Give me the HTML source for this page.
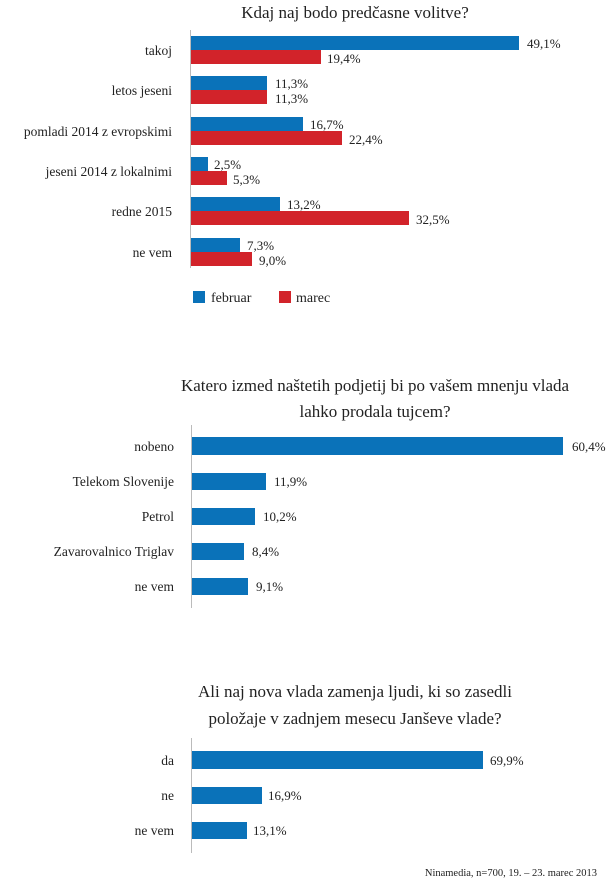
<!DOCTYPE html>
<html><head><meta charset="utf-8"><style>
html,body{margin:0;padding:0;background:#fff;}
svg{display:block;}
text{font-family:"Liberation Serif","DejaVu Serif",serif;fill:#222;}
.t{font-size:17px;text-anchor:middle;}
.l{font-size:13.5px;text-anchor:end;}
.v{font-size:13px;}
</style></head><body>
<svg width="610" height="888" viewBox="0 0 610 888">
<!-- Chart 1 -->
<text class="t" x="355" y="18">Kdaj naj bodo predčasne volitve?</text>
<line x1="190.5" y1="30" x2="190.5" y2="268" stroke="#bbb" stroke-width="1"/>
<g>
<rect x="191" y="36" width="328" height="14" fill="#0a72b9"/><rect x="191" y="50" width="130" height="14" fill="#d2232a"/>
<text class="l" x="172" y="55">takoj</text><text class="v" x="527" y="48">49,1%</text><text class="v" x="327" y="63">19,4%</text>
<rect x="191" y="76" width="76" height="14" fill="#0a72b9"/><rect x="191" y="90" width="76" height="14" fill="#d2232a"/>
<text class="l" x="172" y="95">letos jeseni</text><text class="v" x="275" y="88">11,3%</text><text class="v" x="275" y="103">11,3%</text>
<rect x="191" y="117" width="112" height="14" fill="#0a72b9"/><rect x="191" y="131" width="151" height="14" fill="#d2232a"/>
<text class="l" x="172" y="136">pomladi 2014 z evropskimi</text><text class="v" x="310" y="129">16,7%</text><text class="v" x="349" y="144">22,4%</text>
<rect x="191" y="157" width="17" height="14" fill="#0a72b9"/><rect x="191" y="171" width="36" height="14" fill="#d2232a"/>
<text class="l" x="172" y="176">jeseni 2014 z lokalnimi</text><text class="v" x="214" y="169">2,5%</text><text class="v" x="233" y="184">5,3%</text>
<rect x="191" y="197" width="89" height="14" fill="#0a72b9"/><rect x="191" y="211" width="218" height="14" fill="#d2232a"/>
<text class="l" x="172" y="216">redne 2015</text><text class="v" x="287" y="209">13,2%</text><text class="v" x="416" y="224">32,5%</text>
<rect x="191" y="238" width="49" height="14" fill="#0a72b9"/><rect x="191" y="252" width="61" height="14" fill="#d2232a"/>
<text class="l" x="172" y="257">ne vem</text><text class="v" x="247" y="250">7,3%</text><text class="v" x="259" y="265">9,0%</text>
</g>
<rect x="193" y="291" width="12" height="12" fill="#0a72b9"/><text class="v" x="211" y="302" style="font-size:14px">februar</text>
<rect x="279" y="291" width="12" height="12" fill="#d2232a"/><text class="v" x="296" y="302" style="font-size:14px">marec</text>

<!-- Chart 2 -->
<text class="t" x="375" y="391">Katero izmed naštetih podjetij bi po vašem mnenju vlada</text>
<text class="t" x="375" y="417">lahko prodala tujcem?</text>
<line x1="191.5" y1="425" x2="191.5" y2="608" stroke="#bbb" stroke-width="1"/>
<rect x="192" y="437" width="371" height="18" fill="#0a72b9"/><text class="l" x="174" y="451">nobeno</text><text class="v" x="572" y="451">60,4%</text>
<rect x="192" y="473" width="74" height="17" fill="#0a72b9"/><text class="l" x="174" y="486">Telekom Slovenije</text><text class="v" x="274" y="486">11,9%</text>
<rect x="192" y="508" width="63" height="17" fill="#0a72b9"/><text class="l" x="174" y="521">Petrol</text><text class="v" x="263" y="521">10,2%</text>
<rect x="192" y="543" width="52" height="17" fill="#0a72b9"/><text class="l" x="174" y="556">Zavarovalnico Triglav</text><text class="v" x="252" y="556">8,4%</text>
<rect x="192" y="578" width="56" height="17" fill="#0a72b9"/><text class="l" x="174" y="591">ne vem</text><text class="v" x="256" y="591">9,1%</text>

<!-- Chart 3 -->
<text class="t" x="355" y="697">Ali naj nova vlada zamenja ljudi, ki so zasedli</text>
<text class="t" x="355" y="724">položaje v zadnjem mesecu Janševe vlade?</text>
<line x1="191.5" y1="738" x2="191.5" y2="853" stroke="#bbb" stroke-width="1"/>
<rect x="192" y="751" width="291" height="18" fill="#0a72b9"/><text class="l" x="174" y="765">da</text><text class="v" x="490" y="765">69,9%</text>
<rect x="192" y="787" width="70" height="17" fill="#0a72b9"/><text class="l" x="174" y="800">ne</text><text class="v" x="268" y="800">16,9%</text>
<rect x="192" y="822" width="55" height="17" fill="#0a72b9"/><text class="l" x="174" y="835">ne vem</text><text class="v" x="253" y="835">13,1%</text>
<text x="597" y="876" style="font-size:10.5px;text-anchor:end">Ninamedia, n=700, 19. – 23. marec 2013</text>
</svg>
</body></html>
